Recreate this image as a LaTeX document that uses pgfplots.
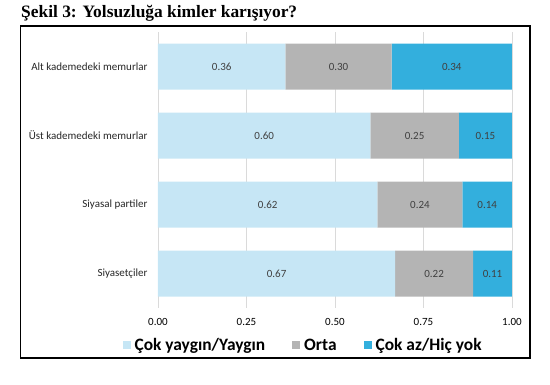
\documentclass[border=0pt]{standalone}
\usepackage{fontspec}
\setmainfont{Carlito}
\newfontfamily\titlefont{Liberation Serif}
\usepackage{pgfplots}
\pgfplotsset{compat=1.18}
\definecolor{cLight}{HTML}{C6E6F5}
\definecolor{cGray}{HTML}{B4B4B4}
\definecolor{cBlue}{HTML}{33AFDD}
\definecolor{cGrid}{HTML}{DADADA}
\definecolor{cTxt}{HTML}{404040}
\begin{document}
\begin{tikzpicture}
\useasboundingbox (0pt,0pt) rectangle (550pt,384pt);
\node[anchor=west, inner sep=0pt, font=\titlefont\bfseries\fontsize{17.4}{19}\selectfont] at (21pt,371pt) {Şekil 3: Yolsuzluğa kimler karışıyor?};
\draw[line width=1.5pt, black] (20.5pt,26pt) rectangle (530pt,358pt);
\begin{axis}[
  at={(158pt,76pt)}, anchor=south west,
  scale only axis, width=354pt, height=276pt,
  xbar stacked, bar width=46pt,
  xmin=0, xmax=1, ymin=-0.5, ymax=3.5, y dir=reverse,
  xtick={0,0.25,0.5,0.75,1},
  xticklabel style={/pgf/number format/fixed, /pgf/number format/fixed zerofill, /pgf/number format/precision=2, font=\fontsize{11}{13}\selectfont, text=black, yshift=-7pt},
  /pgf/number format/assume math mode=true,
  ytick={0,1,2,3},
  yticklabels={Alt kademedeki memurlar, Üst kademedeki memurlar, Siyasal partiler, Siyasetçiler},
  yticklabel style={font=\fontsize{11}{13}\selectfont, text=black!85, xshift=-7pt},
  xmajorgrids, grid style={cGrid, line width=0.8pt},
  axis line style={draw=none}, major tick style={draw=none},
  legend columns=3,
  legend style={at={(0.41,-0.135)}, anchor=center, draw=none, fill=none,
    font=\bfseries\fontsize{17.4}{19}\selectfont, text=black,
    /tikz/every even column/.append style={column sep=25pt}},
  legend image code/.code={\fill[#1] (0pt,-4pt) rectangle (8pt,4pt); \path (10pt,0pt);},
]
\addplot[fill=cLight, draw=none] coordinates {(0.36,0) (0.60,1) (0.62,2) (0.67,3)};
\addplot[fill=cGray, draw=none] coordinates {(0.30,0) (0.25,1) (0.24,2) (0.22,3)};
\addplot[fill=cBlue, draw=none] coordinates {(0.34,0) (0.15,1) (0.14,2) (0.11,3)};
\legend{Çok yaygın/Yaygın, Orta, Çok az/Hiç yok}
\end{axis}
\begin{axis}[
  at={(158pt,76pt)}, anchor=south west,
  scale only axis, width=354pt, height=276pt,
  xmin=0, xmax=1, ymin=-0.5, ymax=3.5, y dir=reverse, hide axis,
]
\addplot[draw=none, mark=none, nodes near coords, point meta=explicit symbolic,
  nodes near coords align={center},
  every node near coord/.append style={font=\fontsize{11}{13}\selectfont, text=cTxt, anchor=center}]
  table[meta=l] {
x y l
0.180 0 0.36
0.510 0 0.30
0.830 0 0.34
0.300 1 0.60
0.725 1 0.25
0.925 1 0.15
0.310 2 0.62
0.740 2 0.24
0.930 2 0.14
0.335 3 0.67
0.780 3 0.22
0.945 3 0.11
};
\end{axis}
\end{tikzpicture}
\end{document}
